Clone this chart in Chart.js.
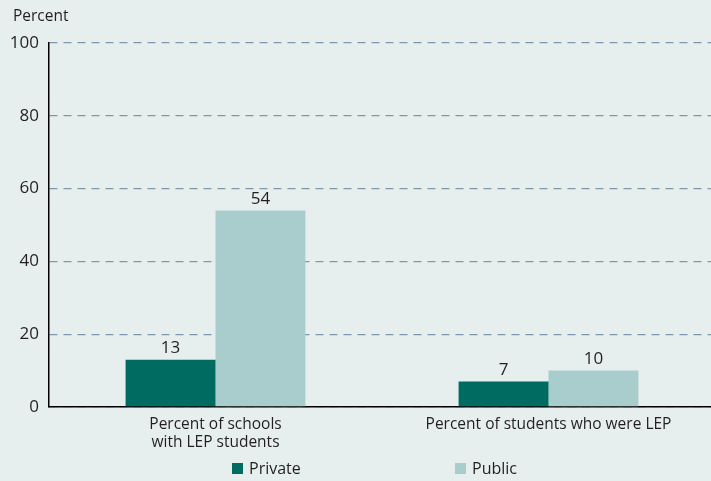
<!DOCTYPE html>
<html>
<head>
<meta charset="utf-8">
<script src="https://cdn.jsdelivr.net/npm/chart.js@4/dist/chart.umd.min.js"></script>
<style>
  body { margin: 0; background: #e7efee; }
  #wrap { position: relative; width: 711px; height: 481px; overflow: hidden; }
  .leg { position: absolute; top: 457px; font: 16px "Open Sans", sans-serif; color: #231f20; display: flex; align-items: center; }
  .leg span.box { width: 11px; height: 11px; display: inline-block; margin-right: 6px; }
</style>
</head>
<body>
<div id="wrap">
  <!-- canvas a bit wider than the page so the x axis runs off the right edge -->
  <canvas id="goodCanvas1" width="715" height="481"></canvas>
  <div class="leg" style="left:232px"><span class="box" style="background:#006b60"></span>Private</div>
  <div class="leg" style="left:455px"><span class="box" style="background:#a9cccc"></span>Public</div>
</div>
<script>
const categories = [['Percent of schools', 'with LEP students'], 'Percent of students who were LEP'];
const privateVals = [13, 7];
const publicVals = [54, 10];
const yTicks = [0, 20, 40, 60, 80, 100];

const textColor = '#231f20';
const fontFam = '"Open Sans", sans-serif';

// value labels above each bar + "Percent" axis title
const barLabels = {
  id: 'barLabels',
  afterDatasetsDraw(chart) {
    const {ctx} = chart;
    ctx.save();
    ctx.fillStyle = textColor;
    ctx.font = '17px ' + fontFam;
    ctx.textAlign = 'center';
    ctx.textBaseline = 'bottom';
    chart.data.datasets.forEach((ds, i) => {
      chart.getDatasetMeta(i).data.forEach((bar, j) => {
        ctx.fillText(ds.data[j], bar.x, bar.y - 3);
      });
    });
    ctx.textAlign = 'left';
    ctx.textBaseline = 'middle';
    ctx.font = '15.5px ' + fontFam;
    ctx.fillText('Percent', 13, 17);
    ctx.restore();
  }
};

new Chart(document.getElementById('goodCanvas1'), {
  type: 'bar',
  data: {
    labels: categories,
    datasets: [
      {label: 'Private', data: privateVals, backgroundColor: '#006b60', categoryPercentage: 0.54, barPercentage: 1},
      {label: 'Public', data: publicVals, backgroundColor: '#a9cccc', categoryPercentage: 0.54, barPercentage: 1}
    ]
  },
  options: {
    responsive: false,
    animation: false,
    layout: {padding: {top: 43, right: 0, left: 0, bottom: 0}},
    plugins: {legend: {display: false}, tooltip: {enabled: false}},
    scales: {
      x: {
        grid: {display: false},
        border: {color: '#000', width: 1.5},
        ticks: {color: textColor, font: {size: 15.5, family: fontFam, lineHeight: 1.18}, padding: 0, maxRotation: 0, autoSkip: false},
        afterFit(axis) { axis.height = 74; }
      },
      y: {
        min: 0, max: 100,
        afterBuildTicks(axis) { axis.ticks = yTicks.map(v => ({value: v})); },
        grid: {color: '#7d98ad', lineWidth: 1.3, drawTicks: false},
        border: {color: '#000', width: 1.5, dash: [8, 6]},
        ticks: {color: textColor, font: {size: 17, family: fontFam}, padding: 10},
        afterFit(axis) { axis.width = 49; }
      }
    }
  },
  plugins: [barLabels]
});
</script>
</body>
</html>
